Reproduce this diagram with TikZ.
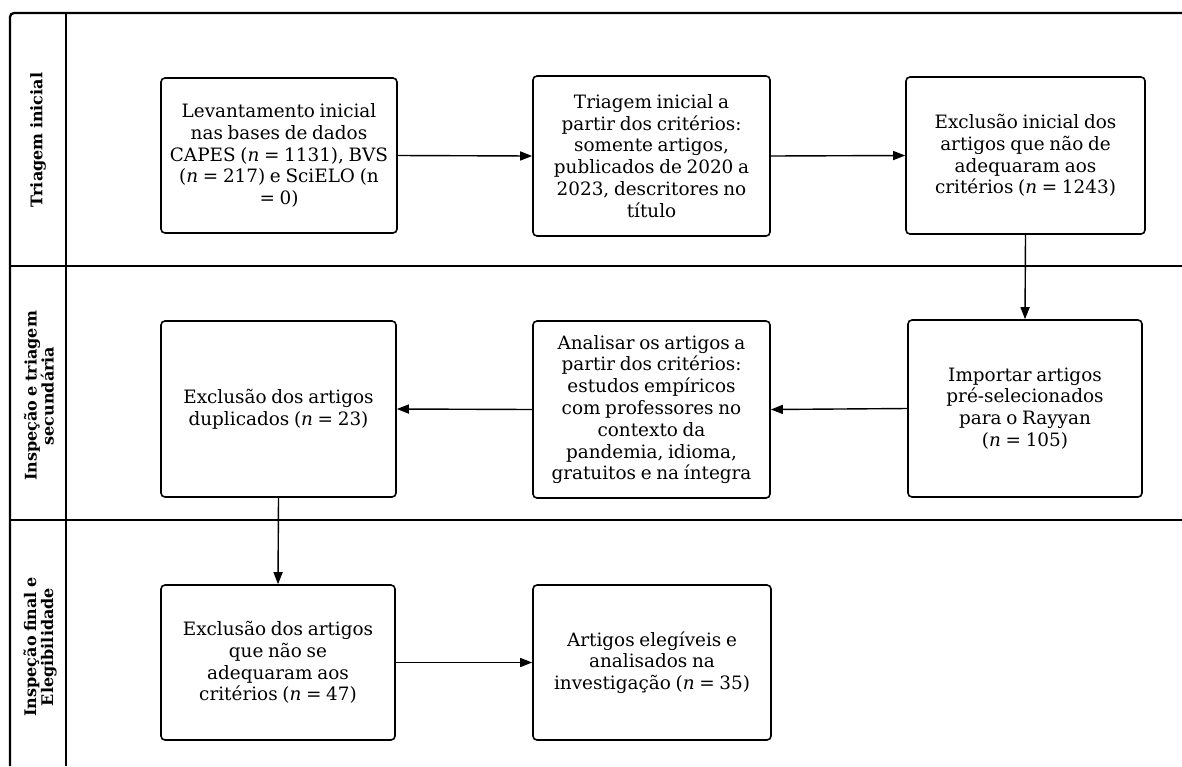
\documentclass[tikz,border=0pt]{standalone}
\usepackage{fontspec}
\setmainfont[WordSpace=0.8]{DejaVu Serif}
\usetikzlibrary{arrows.meta}
\tikzset{
  stepbox/.style={draw=black, line width=1.6pt, rounded corners=4pt, align=center, inner sep=0pt,
    font=\fontsize{18.4}{21.8}\selectfont},
  flow/.style={line width=1.4pt, -{Triangle[length=12pt,width=9pt]}},
  lane/.style={line width=2.3pt},
  lanelabel/.style={rotate=90, align=center, font=\bfseries\fontsize{16}{17}\selectfont}
}
\begin{document}
\begin{tikzpicture}[x=1pt,y=-1pt]
\useasboundingbox (0,0) rectangle (1182,766);
% lanes
\draw[lane, rounded corners=4pt] (10,766) -- (10,13) -- (1182,13);
\draw[lane] (66,13) -- (66,766);
\draw[lane] (10,266) -- (1182,266);
\draw[lane] (10,520) -- (1182,520);
\node[lanelabel] (l1) at (38,140) {Triagem inicial};
\node[lanelabel] (l2) at (39,396) {Inspeção e triagem\\secundária};
\node[lanelabel] (l3) at (40,647) {Inspeção final e\\Elegibilidade};
% boxes
\node[stepbox, minimum width=236pt, minimum height=155pt] (b1) at (279,155.5)
  {Levantamento inicial\\nas bases de dados\\CAPES (\textit{n} = 1131), BVS\\(\textit{n} = 217) e SciELO (n\\= 0)};
\node[stepbox, minimum width=237pt, minimum height=160pt] (b2) at (651.5,156)
  {Triagem inicial a\\partir dos critérios:\\somente artigos,\\publicados de 2020 a\\2023, descritores no\\título};
\node[stepbox, minimum width=239pt, minimum height=157pt] (b3) at (1025.5,155.5)
  {Exclusão inicial dos\\artigos que não de\\adequaram aos\\critérios (\textit{n} = 1243)};
\node[stepbox, minimum width=234pt, minimum height=177pt] (b4) at (1025,408.5)
  {Importar artigos\\pré-selecionados\\para o Rayyan\\(\textit{n} = 105)};
\node[stepbox, minimum width=237pt, minimum height=177pt] (b5) at (651.5,409.5)
  {Analisar os artigos a\\partir dos critérios:\\estudos empíricos\\com professores no\\contexto da\\pandemia, idioma,\\gratuitos e na íntegra};
\node[stepbox, minimum width=235pt, minimum height=176pt] (b6) at (278.5,409)
  {Exclusão dos artigos\\duplicados (\textit{n} = 23)};
\node[stepbox, minimum width=234pt, minimum height=155pt] (b7) at (278,662.5)
  {Exclusão dos artigos\\que não se\\adequaram aos\\critérios (\textit{n} = 47)};
\node[stepbox, minimum width=238pt, minimum height=155pt] (b8) at (652,662.5)
  {Artigos elegíveis e\\analisados na\\investigação (\textit{n} = 35)};
% arrows
\draw[flow] (b1.east) -- (b2.west);
\draw[flow] (b2.east) -- (b3.west);
\draw[flow] (b3.south) -- (b4.north);
\draw[flow] (b4.west) -- (b5.east);
\draw[flow] (b5.west) -- (b6.east);
\draw[flow] (b6.south) -- (b7.north);
\draw[flow] (b7.east) -- (b8.west);
\end{tikzpicture}
\end{document}
